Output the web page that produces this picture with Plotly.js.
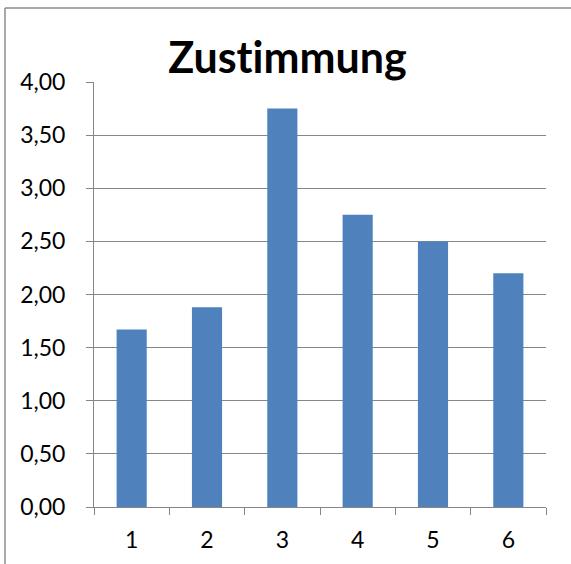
<!DOCTYPE html>
<html>
<head>
<meta charset="utf-8">
<script src="https://cdn.plot.ly/plotly-3.0.1.min.js"></script>
<style>html,body{margin:0;padding:0;background:#fff;}#chart{width:571px;height:564px;}</style>
</head>
<body>
<div id="chart"></div>
<script>
const categories = ["1", "2", "3", "4", "5", "6"];
const values = [1.67, 1.88, 3.75, 2.75, 2.50, 2.20];
const yTickValues = [0, 0.5, 1, 1.5, 2, 2.5, 3, 3.5, 4];
const chartTitle = "Zust\u200Cimmung";

const L = 94, R = 25, T = 82, B = 57, W = 571, H = 564;
const pw = W - L - R, ph = H - T - B;
const px = x => (x - L) / pw;
const py = y => (H - B - y) / ph;

const trace = {
  type: "bar",
  x: categories,
  y: values,
  marker: {color: "#4F81BD", line: {width: 0}},
  hoverinfo: "none"
};

const layout = {
  width: W, height: H,
  margin: {l: L, r: R, t: T, b: B, pad: 0},
  paper_bgcolor: "#ffffff",
  plot_bgcolor: "#ffffff",
  bargap: 0.6,
  showlegend: false,
  font: {family: "Lato, 'Open Sans', sans-serif", color: "#000000", size: 23},
  title: {
    text: "<b>" + chartTitle + "</b>",
    font: {family: "Lato, 'Open Sans', sans-serif", size: 43, color: "#000000"},
    x: px(287.5), xanchor: "center", xref: "paper",
    y: 1 - 58 / H, yanchor: "middle", yref: "container"
  },
  xaxis: {
    type: "category",
    tickson: "boundaries",
    ticks: "outside", ticklen: 7, tickcolor: "#868686", tickwidth: 1,
    ticklabelstandoff: 12,
    showline: true, linecolor: "#868686", linewidth: 1,
    showgrid: false, zeroline: false,
    tickfont: {size: 23, color: "#000"},
    range: [-0.5, 5.5]
  },
  yaxis: {
    range: [0, 4],
    tickvals: yTickValues,
    tickformat: ".2f",
    ticks: "outside", ticklen: 7, tickcolor: "#868686", tickwidth: 1,
    ticklabelstandoff: 16,
    showline: true, linecolor: "#868686", linewidth: 1,
    showgrid: true, gridcolor: "#868686", gridwidth: 1,
    zeroline: false,
    tickfont: {size: 23, color: "#000"}
  },
  separators: ",.",
  shapes: [
    {type: "line", xref: "paper", yref: "paper", x0: px(5), x1: px(575), y0: py(8), y1: py(8), line: {color: "#8c8c8c", width: 1.5}},
    {type: "line", xref: "paper", yref: "paper", x0: px(5), x1: px(5), y0: py(8), y1: py(570), line: {color: "#8c8c8c", width: 1.5}}
  ]
};

Plotly.newPlot("chart", [trace], layout, {displayModeBar: false, staticPlot: true});
</script>
</body>
</html>
